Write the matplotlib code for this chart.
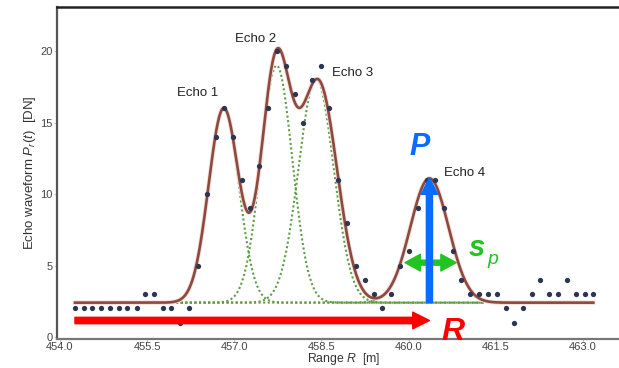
import numpy as np
import matplotlib.pyplot as plt
from matplotlib.patches import FancyArrowPatch

plt.rcParams['font.family'] = ['Liberation Sans', 'DejaVu Sans']
plt.rcParams['mathtext.fontset'] = 'custom'
plt.rcParams['mathtext.rm'] = 'Liberation Sans'
plt.rcParams['mathtext.it'] = 'Liberation Sans:italic'

# sampled echo waveform (range in m, amplitude in DN)
range_m = [454.26, 454.41, 454.56, 454.71, 454.86, 455.01, 455.16, 455.32, 455.47, 455.62,
           455.77, 455.92, 456.07, 456.22, 456.37, 456.53, 456.68, 456.83, 456.98, 457.13,
           457.28, 457.43, 457.58, 457.74, 457.89, 458.04, 458.19, 458.34, 458.49, 458.64,
           458.79, 458.95, 459.10, 459.25, 459.40, 459.55, 459.70, 459.85, 460.00, 460.16,
           460.31, 460.46, 460.61, 460.76, 460.91, 461.06, 461.21, 461.37, 461.52, 461.67,
           461.82, 461.97, 462.12, 462.27, 462.42, 462.58, 462.73, 462.88, 463.03, 463.18]
wave_dn = [2, 2, 2, 2, 2, 2, 2, 2, 3, 3,
           2, 2, 1, 2, 5, 10, 14, 16, 14, 11,
           9, 12, 16, 20, 19, 17, 15, 18, 19, 16,
           11, 8, 5, 4, 3, 2, 3, 5, 6, 9,
           11, 11, 9, 6, 4, 3, 3, 3, 3, 2,
           1, 2, 3, 4, 3, 3, 4, 3, 3, 3]

# fitted model: noise level + gaussian echoes
noise = 2.4
fit_amp = [13.6, 16.5, 15.4, 8.7]
fit_pos = [456.82, 457.72, 458.45, 460.36]
fit_sig = [0.26, 0.25, 0.32, 0.33]
# single components (dotted)
comp_amp = [13.6, 16.6, 15.7, 8.7]
comp_pos = [456.82, 457.73, 458.41, 460.36]
comp_sig = [0.26, 0.27, 0.30, 0.33]

echo_names = ['Echo 1', 'Echo 2', 'Echo 3', 'Echo 4']
echo_text_x = [456.37, 457.37, 459.03, 460.97]
echo_text_y = [17.1, 20.85, 18.5, 11.5]

def gauss(x, a, m, s):
    return a * np.exp(-(x - m) ** 2 / (2 * s ** 2))

fig = plt.figure(figsize=(6.19, 3.68), dpi=100)
ax = fig.add_axes([0.092, 0.079, 0.92, 0.902])

xc = np.linspace(456.0, 461.3, 600)
for a, m, s in zip(comp_amp, comp_pos, comp_sig):
    ax.plot(xc, noise + gauss(xc, a, m, s), color='#5e9c45', lw=1.5, ls=(0, (1, 1.2)), zorder=2)

xf = np.linspace(range_m[0], range_m[-1], 1500)
yf = noise + np.zeros_like(xf)
for a, m, s in zip(fit_amp, fit_pos, fit_sig):
    yf = yf + gauss(xf, a, m, s)
ax.plot(xf, yf, color='#f6dcd6', lw=3.2, zorder=3)
ax.plot(xf, yf, color='#8a4a40', lw=1.9, zorder=4)

ax.plot(range_m, wave_dn, 'o', color='#2c3552', ms=3.8, mec='none', zorder=5)

for name, tx, ty in zip(echo_names, echo_text_x, echo_text_y):
    ax.text(tx, ty, name, fontsize=9.5, color='#222222', ha='center', va='center', zorder=6)

# annotation arrows
red = FancyArrowPatch((range_m[0], 1.15), (460.36, 1.15),
                      arrowstyle='simple,head_length=12,head_width=12,tail_width=4.6',
                      mutation_scale=1, color='#ff0000', shrinkA=0, shrinkB=0, zorder=7)
ax.add_patch(red)
for x_end in [459.94, 460.82]:
    g = FancyArrowPatch((460.38, 5.2), (x_end, 5.2),
                        arrowstyle='simple,head_length=11,head_width=12,tail_width=3.6',
                        mutation_scale=1, color='#22c322', shrinkA=0, shrinkB=0, zorder=7)
    ax.add_patch(g)
blue = FancyArrowPatch((460.36, noise), (460.36, 11.15),
                       arrowstyle='simple,head_length=12,head_width=12,tail_width=4.4',
                       mutation_scale=1, color='#0a6cff', shrinkA=0, shrinkB=0, zorder=8)
ax.add_patch(blue)

ax.text(460.19, 13.3, 'P', fontsize=22, color='#0a6cff', fontweight='bold', fontstyle='italic',
        ha='center', va='center', zorder=9)
ax.text(461.17, 6.2, 's', fontsize=21, color='#22c322', fontweight='bold', fontstyle='italic',
        ha='center', va='center', zorder=9)
ax.text(461.45, 5.4, 'p', fontsize=14, color='#22c322', fontstyle='italic',
        ha='center', va='center', zorder=9)
ax.text(460.77, 0.35, 'R', fontsize=23, color='#ff0000', fontweight='bold', fontstyle='italic',
        ha='center', va='center', zorder=9)

ax.set_xlim(453.95, 463.75)
ax.set_ylim(-0.14, 23.1)
ax.set_xticks([454.0, 455.5, 457.0, 458.5, 460.0, 461.5, 463.0])
ax.set_xticklabels(['454.0', '455.5', '457.0', '458.5', '460.0', '461.5', '463.0'])
ax.set_yticks([0, 5, 10, 15, 20])
ax.tick_params(length=2, width=0.6, color='#bbbbbb', labelsize=8, labelcolor='#444444', pad=1)
ax.tick_params(axis='x', pad=0)
ax.spines['right'].set_visible(False)
ax.spines['top'].set_color('#222222')
ax.spines['top'].set_linewidth(1.8)
ax.spines['left'].set_color('#555555')
ax.spines['left'].set_linewidth(1.6)
ax.spines['bottom'].set_color('#777777')
ax.spines['bottom'].set_linewidth(1.6)

ax.set_ylabel('Echo waveform $P_r(t)$  [DN]', fontsize=9.5, color='#333333', labelpad=2)
fig.text(344 / 619, 1 / 368, 'Range $R$  [m]', fontsize=8.8, color='#333333',
         ha='center', va='bottom')

plt.savefig('out.png', dpi=100)
